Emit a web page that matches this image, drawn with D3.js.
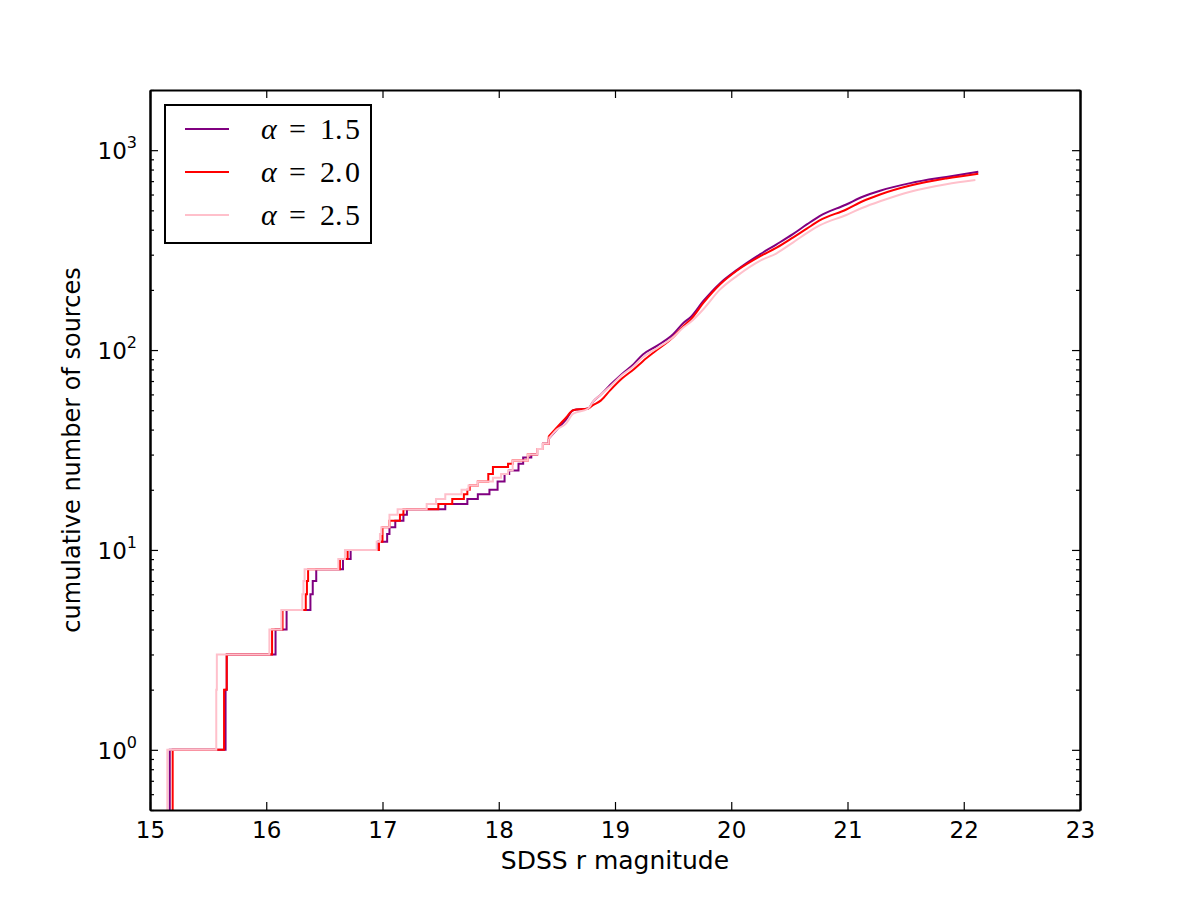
<!DOCTYPE html>
<html>
<head>
<meta charset="utf-8">
<script src="https://cdn.jsdelivr.net/npm/d3@7"></script>
<style>
  body { margin: 0; background: #ffffff; }
  text { fill: #000; }
</style>
</head>
<body>
<svg id="chart"></svg>
<script>
// Size of the picture and of the axes box
var width = 1200, height = 900;
var margin = {left: 150, right: 120, top: 90, bottom: 90};

// tick values
var xTicks = [15, 16, 17, 18, 19, 20, 21, 22, 23];
var yTicks = [1, 10, 100, 1000];
var yTickExp = ["0", "1", "2", "3"];

// legend labels (alpha values)
var alphaLabels = ["1.5", "2.0", "2.5"];

// alpha = 1.5 : [r magnitude, cumulative count] at each step
var purpleSteps = [
  [15.17, 1], [15.65, 2], [15.66, 3], [16.08, 4], [16.175, 5], [16.38, 6], [16.40, 7],
  [16.43, 8], [16.66, 9], [16.726, 10], [16.96, 11], [17.04, 12], [17.06, 13], [17.11, 14],
  [17.18, 15], [17.21, 16], [17.54, 17], [17.73, 18], [17.82, 19], [17.92, 20], [17.99, 22],
  [18.05, 24], [18.09, 25], [18.17, 27], [18.21, 29], [18.28, 30], [18.33, 32], [18.38, 34],
  [18.43, 36]
];
// bright end, dense enough to read as a curve
var purpleTail = [
  [18.50, 40], [18.58, 45], [18.64, 50], [18.77, 51], [18.81, 55], [18.88, 60], [18.96, 67],
  [19.06, 76], [19.16, 85], [19.24, 95], [19.36, 105], [19.50, 120], [19.59, 137], [19.65, 146],
  [19.76, 176], [19.90, 215], [20.05, 252], [20.25, 302], [20.39, 338], [20.53, 380],
  [20.65, 425], [20.76, 468], [20.99, 535], [21.13, 585], [21.28, 627], [21.54, 684],
  [21.85, 735], [22.125, 779]
];

// alpha = 2.0
var redSteps = [
  [15.195, 1], [15.637, 2], [15.66, 3], [16.05, 4], [16.14, 5], [16.34, 6], [16.35, 7],
  [16.36, 8], [16.634, 9], [16.70, 10], [16.97, 11], [17.0, 13], [17.06, 14], [17.15, 15],
  [17.18, 16], [17.48, 17], [17.60, 18], [17.70, 19], [17.73, 20], [17.75, 21], [17.82, 22],
  [17.91, 24], [17.95, 26], [18.08, 27], [18.12, 28], [18.25, 30], [18.33, 32], [18.38, 34],
  [18.43, 37]
];
var redTail = [
  [18.50, 41], [18.58, 46], [18.64, 50], [18.77, 51], [18.81, 53], [18.88, 56], [18.96, 63],
  [19.06, 72], [19.16, 80], [19.24, 88], [19.36, 100], [19.50, 116], [19.59, 132], [19.65, 142],
  [19.76, 172], [19.90, 212], [20.05, 250], [20.25, 295], [20.39, 325], [20.53, 365],
  [20.65, 405], [20.76, 445], [20.99, 505], [21.13, 555], [21.28, 600], [21.54, 665],
  [21.85, 722], [22.125, 763]
];

// alpha = 2.5
var pinkSteps = [
  [15.149, 1], [15.57, 2], [15.575, 3], [16.027, 4], [16.13, 5], [16.31, 6], [16.32, 7],
  [16.33, 8], [16.62, 9], [16.677, 10], [16.95, 11], [16.978, 12], [16.99, 13], [17.06, 15],
  [17.13, 16], [17.38, 17], [17.46, 18], [17.54, 19], [17.68, 20], [17.74, 21], [17.82, 22],
  [17.95, 23], [18.02, 24], [18.08, 25], [18.12, 28], [18.25, 30], [18.33, 32], [18.38, 34],
  [18.43, 36]
];
var pinkTail = [
  [18.50, 40], [18.58, 43], [18.64, 48], [18.77, 51], [18.81, 55], [18.88, 60], [18.96, 66],
  [19.06, 75], [19.16, 83], [19.24, 92], [19.36, 102], [19.50, 116], [19.59, 130], [19.65, 138],
  [19.76, 160], [19.90, 200], [20.05, 235], [20.25, 280], [20.39, 305], [20.53, 345],
  [20.65, 385], [20.76, 420], [20.99, 474], [21.13, 515], [21.28, 555], [21.54, 620],
  [21.85, 675], [22.10, 709]
];

var series = [
  {steps: purpleSteps, tail: purpleTail, color: "purple"},
  {steps: redSteps, tail: redTail, color: "red"},
  {steps: pinkSteps, tail: pinkTail, color: "pink"}
];

var svg = d3.select("#chart")
  .attr("width", width)
  .attr("height", height);

svg.append("rect").attr("width", width).attr("height", height).attr("fill", "#fff");

var x = d3.scaleLinear().domain([15, 23]).range([margin.left, width - margin.right]);
var y = d3.scaleLog().domain([0.5, 2000]).range([height - margin.bottom, margin.top]);

// minor ticks for the log axis: 2..9 in each decade inside the domain
var yMinor = [];
[0.1, 1, 10, 100, 1000].forEach(function(d) {
  for (var k = 2; k <= 9; k++) {
    var v = d * k;
    if (v >= 0.5 && v <= 2000) yMinor.push(v);
  }
});

svg.append("clipPath").attr("id", "clip")
  .append("rect")
  .attr("x", margin.left).attr("y", margin.top)
  .attr("width", width - margin.left - margin.right)
  .attr("height", height - margin.top - margin.bottom);

// the curves (purple first, pink on top)
var stepLine = d3.line()
  .x(function(d) { return x(d[0]); })
  .y(function(d) { return y(d[1]); })
  .curve(d3.curveStepAfter);

var tailLine = d3.line()
  .x(function(d) { return x(d[0]); })
  .y(function(d) { return y(d[1]); })
  .curve(d3.curveMonotoneX);

var plot = svg.append("g").attr("clip-path", "url(#clip)");

series.forEach(function(s) {
  var start = [[s.steps[0][0], y.domain()[0] * 0.5]];
  plot.append("path")
    .attr("d", stepLine(start.concat(s.steps)))
    .attr("fill", "none")
    .attr("stroke", s.color)
    .attr("stroke-width", 2);
  plot.append("path")
    .attr("d", tailLine([s.steps[s.steps.length - 1]].concat(s.tail)))
    .attr("fill", "none")
    .attr("stroke", s.color)
    .attr("stroke-width", 2)
    .attr("stroke-linejoin", "round");
});

// axes, ticks pointing inward on all four sides
function styleAxis(g) {
  g.selectAll(".domain").attr("stroke", "#000").attr("stroke-width", 2);
  g.selectAll(".tick line").attr("stroke", "#000").attr("stroke-width", 1.2);
  g.selectAll(".tick text").style("font-size", "23px").style("font-family", "'DejaVu Sans', sans-serif");
}

svg.append("g")
  .attr("transform", "translate(0," + (height - margin.bottom) + ")")
  .call(d3.axisBottom(x).tickValues(xTicks).tickFormat(d3.format("d"))
    .tickSizeInner(-8).tickSizeOuter(0).tickPadding(12))
  .call(styleAxis);

svg.append("g")
  .attr("transform", "translate(0," + margin.top + ")")
  .call(d3.axisTop(x).tickValues(xTicks).tickFormat("")
    .tickSizeInner(-8).tickSizeOuter(0))
  .call(styleAxis);

[{pos: margin.left, axis: d3.axisLeft}, {pos: width - margin.right, axis: d3.axisRight}].forEach(function(a) {
  svg.append("g")
    .attr("transform", "translate(" + a.pos + ",0)")
    .call(a.axis(y).tickValues(yMinor).tickFormat("").tickSizeInner(-4).tickSizeOuter(0))
    .call(styleAxis);
  svg.append("g")
    .attr("transform", "translate(" + a.pos + ",0)")
    .call(a.axis(y).tickValues(yTicks).tickFormat("").tickSizeInner(-8).tickSizeOuter(0))
    .call(styleAxis);
});

// y tick labels as 10 with a superscript exponent
var yLab = svg.append("g").selectAll("text")
  .data(yTicks)
  .enter().append("text")
  .attr("x", margin.left - 13)
  .attr("y", function(d) { return y(d) + 9; })
  .attr("text-anchor", "end")
  .style("font-family", "'DejaVu Sans', sans-serif")
  .style("font-size", "23px");
yLab.append("tspan").text("10");
yLab.append("tspan")
  .attr("dy", -11)
  .style("font-size", "16px")
  .text(function(d, i) { return yTickExp[i]; });

// axis titles
svg.append("text")
  .attr("x", (margin.left + width - margin.right) / 2)
  .attr("y", 869)
  .attr("text-anchor", "middle")
  .style("font-family", "'DejaVu Sans', sans-serif")
  .style("font-size", "25px")
  .text("SDSS r magnitude");

svg.append("text")
  .attr("transform", "translate(80," + ((margin.top + height - margin.bottom) / 2) + ") rotate(-90)")
  .attr("text-anchor", "middle")
  .style("font-family", "'DejaVu Sans', sans-serif")
  .style("font-size", "24px")
  .text("cumulative number of sources");

// legend
var legend = svg.append("g").attr("transform", "translate(165,105)");
legend.append("rect")
  .attr("width", 206).attr("height", 138)
  .attr("fill", "#fff").attr("stroke", "#000").attr("stroke-width", 2);

var rows = legend.selectAll("g.row")
  .data(series)
  .enter().append("g")
  .attr("class", "row")
  .attr("transform", function(d, i) { return "translate(0," + (24 + i * 43) + ")"; });

rows.append("line")
  .attr("x1", 20).attr("x2", 64)
  .attr("stroke", function(d) { return d.color; })
  .attr("stroke-width", 2);

var lt = rows.append("text")
  .attr("y", 10)
  .style("font-family", "'Liberation Serif', 'DejaVu Serif', serif")
  .style("font-size", "30px");
lt.append("tspan").attr("x", 96).style("font-style", "italic").text("α");
lt.append("tspan").attr("x", 124).attr("textLength", 24).text("=");
lt.append("tspan").attr("x", 155).text(function(d, i) { return alphaLabels[i].split(".")[0] + "."; });
lt.append("tspan").attr("x", 180).text(function(d, i) { return alphaLabels[i].split(".")[1]; });
</script>
</body>
</html>
